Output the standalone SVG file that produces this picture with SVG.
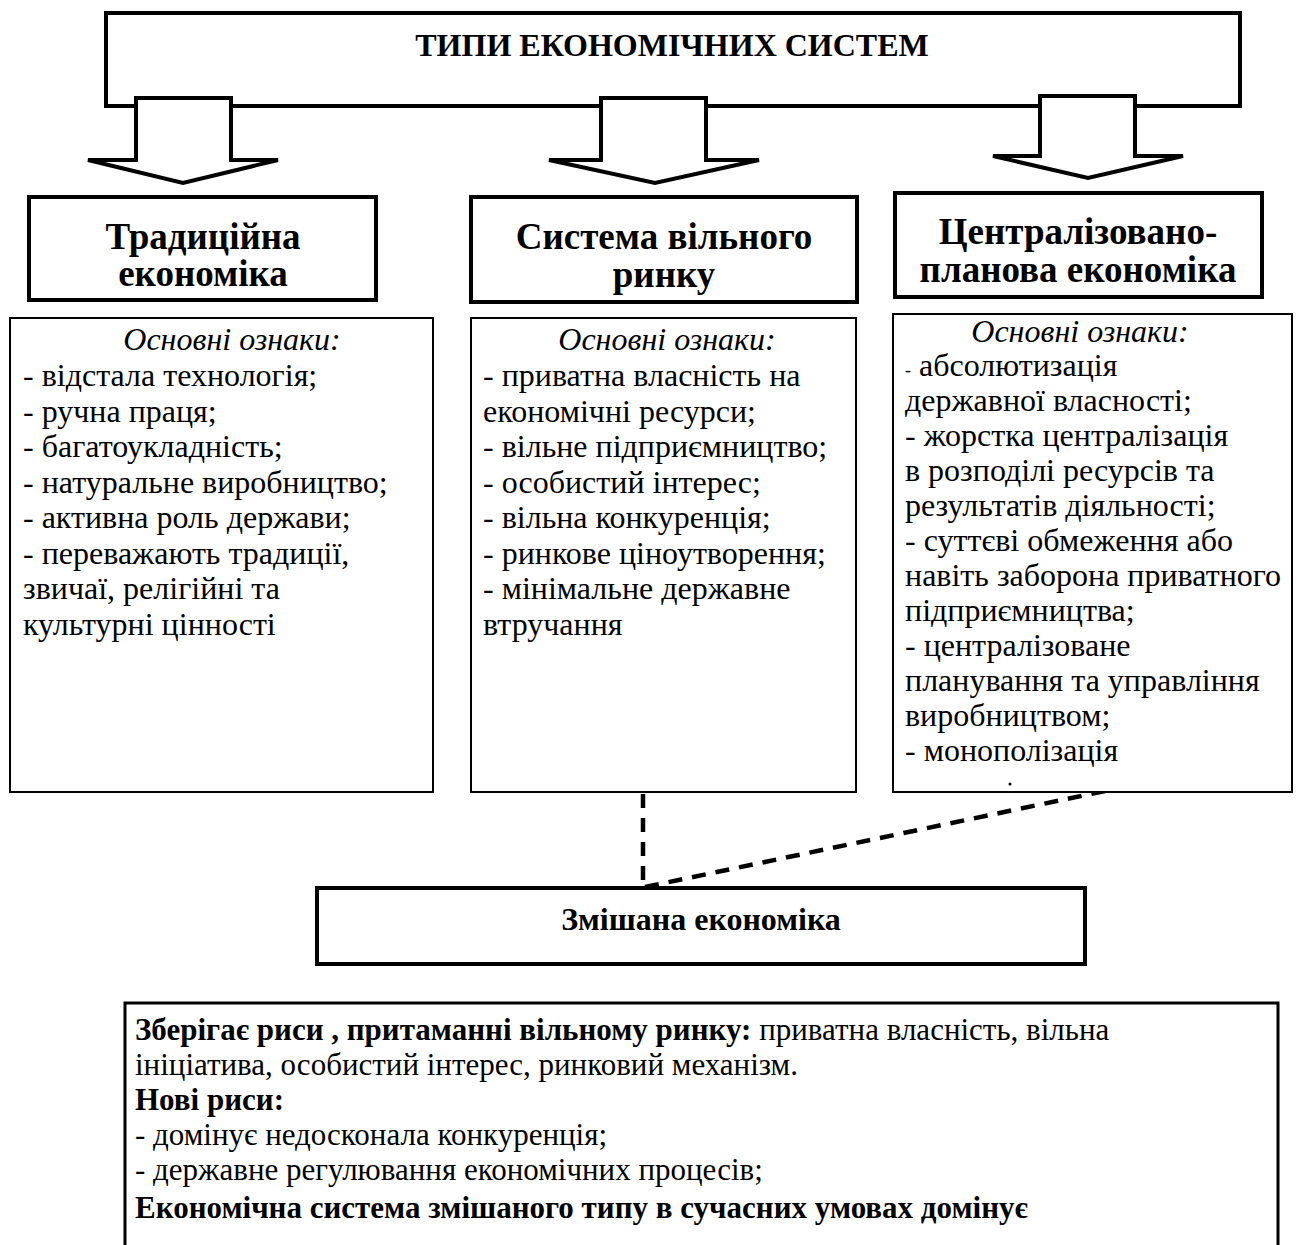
<svg xmlns="http://www.w3.org/2000/svg" width="1303" height="1245" viewBox="0 0 1303 1245">
<style>
text{font-family:"Liberation Serif","Times New Roman",serif;fill:#000}
.thick{fill:#fff;stroke:#000;stroke-width:4}
.thin{fill:#fff;stroke:#000;stroke-width:2}
.mid{fill:#fff;stroke:#000;stroke-width:3}
.head{font-size:37px;font-weight:bold;text-anchor:middle}
.list{font-size:32px}
.body{font-size:31px}
.it{font-style:italic;text-anchor:middle}
.b{font-weight:bold}
.dash{fill:none;stroke:#000;stroke-width:4.5;stroke-dasharray:14 10}
</style>
<rect width="1303" height="1245" fill="#fff"/>
<g id="top">
<rect class="thick" x="106" y="13" width="1134" height="93"/>
<text x="672" y="56" style="font-size:32px;font-weight:bold" text-anchor="middle">ТИПИ ЕКОНОМІЧНИХ СИСТЕМ</text>
</g>
<g id="connectors">
<polygon class="thick" points="136,98 231,98 231,160 278,160 183,183 88,160 136,160"/>
<polygon class="thick" points="601,98 706,98 706,160 759,160 655,183 549,160 601,160"/>
<polygon class="thick" points="1040,96 1135,96 1135,156 1183,156 1088,178 993,156 1040,156"/>
<line class="dash" x1="643" y1="794" x2="643" y2="888"/>
<line class="dash" x1="645" y1="887" x2="1124" y2="787"/>
</g>
<g id="traditional">
<rect class="thick" x="29" y="197" width="347" height="103"/>
<text class="head" x="203" y="249">Традиційна</text>
<text class="head" x="203" y="286">економіка</text>
</g>
<g id="free-market">
<rect class="thick" x="471" y="197" width="386" height="105"/>
<text class="head" x="664" y="249">Система вільного</text>
<text class="head" x="664" y="287">ринку</text>
</g>
<g id="planned">
<rect class="thick" x="895" y="193" width="367" height="104"/>
<text class="head" x="1078" y="244">Централізовано-</text>
<text class="head" x="1078" y="282">планова економіка</text>
</g>
<g id="traditional-features">
<rect class="thin" x="10" y="318" width="423" height="474"/>
<text class="list it" x="232" y="350">Основні ознаки:</text>
<text class="list" x="23" y="386">- відстала технологія;</text>
<text class="list" x="23" y="421.5">- ручна праця;</text>
<text class="list" x="23" y="457">- багатоукладність;</text>
<text class="list" x="23" y="492.5">- натуральне виробництво;</text>
<text class="list" x="23" y="528">- активна роль держави;</text>
<text class="list" x="23" y="563.5">- переважають традиції,</text>
<text class="list" x="23" y="599">звичаї, релігійні та</text>
<text class="list" x="23" y="634.5">культурні цінності</text>
</g>
<g id="free-market-features">
<rect class="thin" x="471" y="318" width="385" height="474"/>
<text class="list it" x="667" y="350">Основні ознаки:</text>
<text class="list" x="483" y="386">- приватна власність на</text>
<text class="list" x="483" y="421.5">економічні ресурси;</text>
<text class="list" x="483" y="457">- вільне підприємництво;</text>
<text class="list" x="483" y="492.5">- особистий інтерес;</text>
<text class="list" x="483" y="528">- вільна конкуренція;</text>
<text class="list" x="483" y="563.5">- ринкове ціноутворення;</text>
<text class="list" x="483" y="599">- мінімальне державне</text>
<text class="list" x="483" y="634.5">втручання</text>
</g>
<g id="planned-features">
<rect class="thin" x="893" y="314" width="399" height="478"/>
<text class="list it" x="1080" y="342">Основні ознаки:</text>
<text class="list" x="905" y="376"><tspan font-size="18">-</tspan> абсолютизація</text>
<text class="list" x="905" y="411">державної власності;</text>
<text class="list" x="905" y="446">- жорстка централізація</text>
<text class="list" x="905" y="481">в розподілі ресурсів та</text>
<text class="list" x="905" y="516">результатів діяльності;</text>
<text class="list" x="905" y="551">- суттєві обмеження або</text>
<text class="list" x="905" y="586">навіть заборона приватного</text>
<text class="list" x="905" y="621">підприємництва;</text>
<text class="list" x="905" y="656">- централізоване</text>
<text class="list" x="905" y="691">планування та управління</text>
<text class="list" x="905" y="726">виробництвом;</text>
<text class="list" x="905" y="761">- монополізація</text>
<circle cx="1010" cy="784" r="1.5" fill="#000"/>
</g>
<g id="mixed">
<rect class="thick" x="317" y="888" width="768" height="76"/>
<text x="701" y="930" style="font-size:32px;font-weight:bold" text-anchor="middle">Змішана економіка</text>
</g>
<g id="mixed-features">
<rect class="mid" x="125" y="1003" width="1153" height="260"/>
<text class="body" x="135" y="1040"><tspan class="b">Зберігає риси , притаманні вільному ринку:</tspan> приватна власність, вільна</text>
<text class="body" x="135" y="1075">ініціатива, особистий інтерес, ринковий механізм.</text>
<text class="body b" x="135" y="1110">Нові риси:</text>
<text class="body" x="135" y="1145">- домінує недосконала конкуренція;</text>
<text class="body" x="135" y="1180">- державне регулювання економічних процесів;</text>
<text class="body b" x="135" y="1218">Економічна система змішаного типу в сучасних умовах домінує</text>
</g>
</svg>
